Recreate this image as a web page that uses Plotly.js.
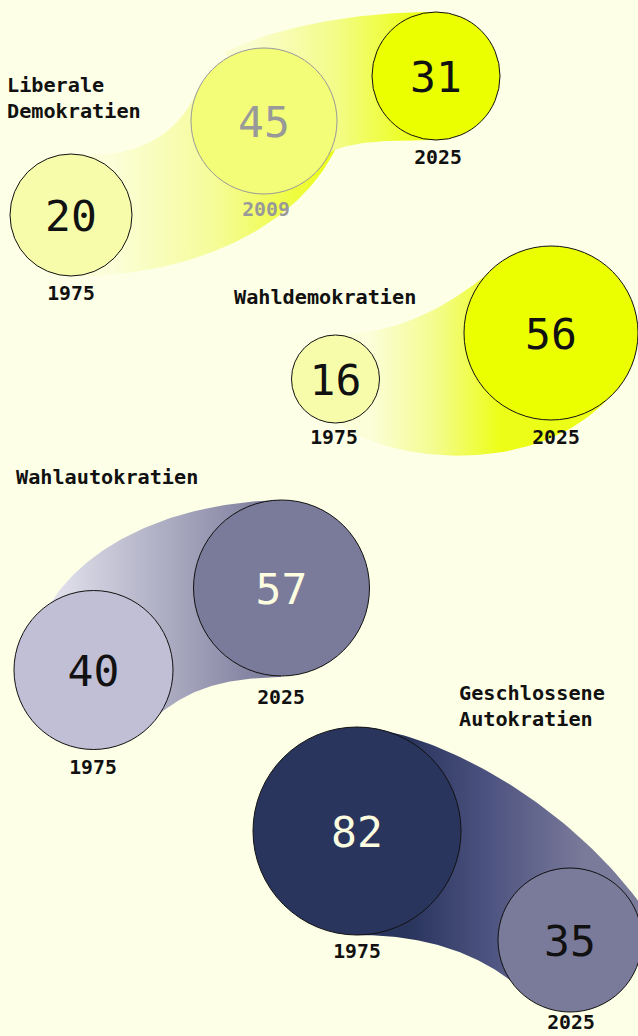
<!DOCTYPE html>
<html>
<head>
<meta charset="utf-8">
<script src="https://cdn.plot.ly/plotly-3.0.1.min.js"></script>
<style>
  html, body { margin: 0; padding: 0; background: #fdffe6; }
  #chart { width: 638px; height: 1036px; }
</style>
</head>
<body>
<div id="chart"></div>
<script>
// ---------------- DATA ----------------
const categories = ['Liberale<br>Demokratien', 'Wahldemokratien', 'Wahlautokratien', 'Geschlossene<br>Autokratien'];
const yearsLiberal = ['1975', '2009', '2025'];
const valuesLiberal = [20, 45, 31];
const yearsWahldemo = ['1975', '2025'];
const valuesWahldemo = [16, 56];
const yearsWahlauto = ['1975', '2025'];
const valuesWahlauto = [40, 57];
const yearsGeschl = ['1975', '2025'];
const valuesGeschl = [82, 35];

// ---------------- PLACEMENT (pixel space of the canvas) ----------------
const W = 638, H = 1036;
const BG = '#fdffe6';
const NUM_DY = 5;   // optical correction for digits (no descenders)
const LAB_DY = 2;

const groups = [
  {
    title: categories[0], titlePos: [5, 98],
    years: yearsLiberal, values: valuesLiberal,
    circles: [
      {c: [71, 215], r: 61, lab: [71, 293], fill: '#f7fcaa', line: '#111', txt: '#111', labTxt: '#111'},
      {c: [264, 121], r: 73, lab: [266, 209], fill: '#f3fd78', line: '#999', txt: '#999', labTxt: '#999'},
      {c: [436, 76], r: 64, lab: [438, 157], fill: '#ebff00', line: '#111', txt: '#111', labTxt: '#111'}
    ],
    bands: [
      {from: 0, to: 1,
       top: [[85, 155], [140, 156], [180, 135], [200, 85]],
       bot: [[71, 276], [170, 278], [290, 240], [335, 150]],
       grad: [110, 325, [[0, '#fbfed9'], [0.5, '#f5fc96'], [1, '#ecfd1e']]]},
      {from: 1, to: 2,
       top: [[225, 52], [280, 25], [360, 12], [436, 12]],
       bot: [[331, 152], [350, 142], [380, 140], [436, 140]],
       grad: [250, 425, [[0, '#fafdd0'], [0.5, '#f3fc86'], [1, '#ebff08']]]}
    ]
  },
  {
    title: categories[1], titlePos: [232, 297],
    years: yearsWahldemo, values: valuesWahldemo,
    circles: [
      {c: [335.5, 379], r: 44, lab: [334, 437], fill: '#f7fcaa', line: '#111', txt: '#111', labTxt: '#111'},
      {c: [551, 333], r: 87, lab: [556, 437], fill: '#ebff00', line: '#111', txt: '#111', labTxt: '#111'}
    ],
    bands: [
      {from: 0, to: 1,
       top: [[335, 335], [400, 334], [450, 305], [490, 272]],
       bot: [[340, 423], [385, 462], [530, 478], [605, 402]],
       grad: [370, 500, [[0, '#fbfed8'], [0.5, '#f4fc8e'], [1, '#ecfe18']]]}
    ]
  },
  {
    title: categories[2], titlePos: [14, 477],
    years: yearsWahlauto, values: valuesWahlauto,
    circles: [
      {c: [93.5, 670], r: 79.5, lab: [93, 767], fill: '#c0bfd5', line: '#111', txt: '#111', labTxt: '#111'},
      {c: [281.5, 588], r: 88, lab: [281, 697], fill: '#7a7a9a', line: '#111', txt: '#fdfde0', labTxt: '#111'}
    ],
    bands: [
      {from: 0, to: 1,
       top: [[50, 604], [90, 540], [180, 502], [281, 500]],
       bot: [[150, 722], [185, 690], [220, 678], [281, 677]],
       grad: [45, 275, [[0, '#e6e5ef'], [1, '#79799a']]]}
    ]
  },
  {
    title: categories[3], titlePos: [457, 706],
    years: yearsGeschl, values: valuesGeschl,
    circles: [
      {c: [357, 831], r: 104, lab: [357, 951], fill: '#2a355e', line: '#111', txt: '#fdfde0', labTxt: '#111'},
      {c: [570, 940], r: 72, lab: [571, 1022], fill: '#7a7a9a', line: '#111', txt: '#111', labTxt: '#111'}
    ],
    bands: [
      {from: 0, to: 1,
       top: [[360, 727], [450, 735], [585, 815], [655, 925]],
       bot: [[357, 935], [420, 935], [470, 950], [510, 980]],
       grad: [410, 585, [[0, '#2a355e'], [0.45, '#4d5380'], [1, '#7a7a9a']]]}
    ]
  }
];

// ---------------- helpers ----------------
function bezier(p, n) {
  const out = [];
  for (let i = 0; i <= n; i++) {
    const t = i / n, u = 1 - t;
    const a = u * u * u, b = 3 * u * u * t, c = 3 * u * t * t, d = t * t * t;
    out.push([a * p[0][0] + b * p[1][0] + c * p[2][0] + d * p[3][0],
              a * p[0][1] + b * p[1][1] + c * p[2][1] + d * p[3][1]]);
  }
  return out;
}

const MONO = '"DejaVu Sans Mono", "Liberation Mono", monospace';
const traces = [];
const annotations = [];

// bands first (underneath)
groups.forEach(g => {
  g.bands.forEach(b => {
    const top = bezier(b.top, 60);
    const bot = bezier(b.bot, 60).reverse();
    const cFrom = g.circles[b.from].c, cTo = g.circles[b.to].c;
    const pts = [].concat(top, [cTo], bot, [cFrom], [top[0]]);
    traces.push({
      type: 'scatter', mode: 'lines',
      x: pts.map(p => p[0]), y: pts.map(p => p[1]),
      fill: 'toself',
      fillcolor: b.grad[2][b.grad[2].length - 1][1],
      fillgradient: {type: 'horizontal', start: b.grad[0], stop: b.grad[1], colorscale: b.grad[2]},
      line: {width: 0, color: 'rgba(0,0,0,0)'},
      hoverinfo: 'skip', showlegend: false
    });
  });
});

// circles, numbers, year labels
groups.forEach(g => {
  traces.push({
    type: 'scatter', mode: 'markers',
    x: g.circles.map(c => c.c[0]),
    y: g.circles.map(c => c.c[1]),
    marker: {
      size: g.circles.map(c => 2 * c.r),
      color: g.circles.map(c => c.fill),
      line: {width: 1, color: g.circles.map(c => c.line)},
      opacity: 1
    },
    hoverinfo: 'skip', showlegend: false
  });
  traces.push({
    type: 'scatter', mode: 'text',
    x: g.circles.map(c => c.c[0]),
    y: g.circles.map(c => c.c[1] + NUM_DY),
    text: g.values.map(String),
    textposition: 'middle center',
    textfont: {family: MONO, size: 43, color: g.circles.map(c => c.txt)},
    hoverinfo: 'skip', showlegend: false
  });
  traces.push({
    type: 'scatter', mode: 'text',
    x: g.circles.map(c => c.lab[0]),
    y: g.circles.map(c => c.lab[1] + LAB_DY),
    text: g.years,
    textposition: 'middle center',
    textfont: {family: MONO, size: 19.8, weight: 'bold', color: g.circles.map(c => c.labTxt)},
    cliponaxis: false,
    hoverinfo: 'skip', showlegend: false
  });
  annotations.push({
    x: g.titlePos[0], y: g.titlePos[1], xref: 'x', yref: 'y',
    text: '<b>' + g.title.split('<br>').join('</b><br><b>') + '</b>',
    showarrow: false, xanchor: 'left', yanchor: 'middle', align: 'left',
    font: {family: MONO, size: 20.2, color: '#111'}
  });
});

const layout = {
  width: W, height: H,
  margin: {l: 0, r: 0, t: 0, b: 0, pad: 0},
  paper_bgcolor: BG, plot_bgcolor: BG,
  xaxis: {range: [0, W], visible: false, fixedrange: true},
  yaxis: {range: [H, 0], visible: false, fixedrange: true},
  showlegend: false,
  hovermode: false,
  annotations: annotations
};

Plotly.newPlot('chart', traces, layout, {staticPlot: true, displayModeBar: false});
</script>
</body>
</html>
